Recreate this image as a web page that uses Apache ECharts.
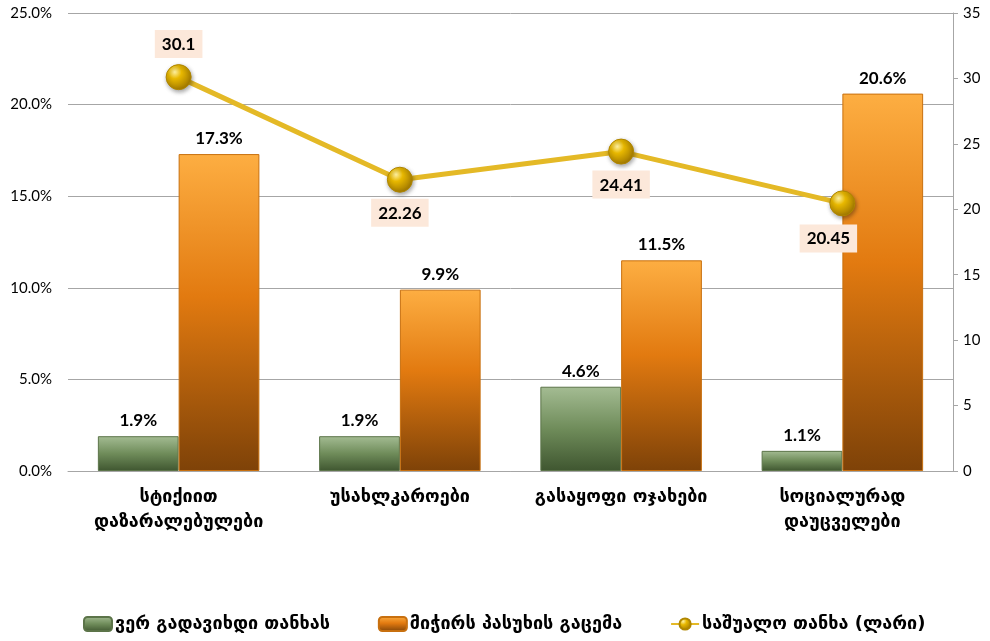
<!DOCTYPE html>
<html>
<head>
<meta charset="utf-8">
<script src="https://cdn.jsdelivr.net/npm/echarts@6/dist/echarts.min.js"></script>
<style>
html,body{margin:0;padding:0;background:#fff;}
#chart{width:990px;height:641px;}
</style>
</head>
<body>
<div id="chart"></div>
<script>
// Categories and series values
const categories = ['სტიქიით\nდაზარალებულები', 'უსახლკაროები', 'გასაყოფი ოჯახები', 'სოციალურად\nდაუცველები'];
const cannotPay = [1.9, 1.9, 4.6, 1.1];        // %
const hardToAnswer = [17.3, 9.9, 11.5, 20.6];   // %
const avgAmount = [30.1, 22.26, 24.41, 20.45];  // GEL
const seriesNames = ['ვერ გადავიხდი თანხას', 'მიჭირს პასუხის გაცემა', 'საშუალო თანხა (ლარი)'];
const leftTicks = [0, 5, 10, 15, 20, 25];
const rightTicks = [0, 5, 10, 15, 20, 25, 30, 35];

const numFont = 'Lato, "Open Sans", sans-serif';
const geoFont = '"DejaVu Sans", sans-serif';

const chart = echarts.init(document.getElementById('chart'), null, {renderer: 'canvas'});

const lineLabelPos = ['top', 'bottom', 'bottom', 'bottom'];
const lineLabelShift = [[0, 0], [0, 0], [0, 0], [-14, 2]];

chart.setOption({
  animation: false,
  backgroundColor: '#ffffff',
  grid: {left: 68, right: 37, top: 13, bottom: 170},
  legend: {
    bottom: 3,
    left: 78,
    itemGap: 48,
    itemWidth: 28,
    itemHeight: 14,
    textStyle: {fontFamily: geoFont, fontSize: 18, fontWeight: 'bold', color: '#000', padding: [0, 0, 0, -2]},
    data: seriesNames
  },
  xAxis: {
    type: 'category',
    data: categories,
    axisLine: {lineStyle: {color: '#A6A6A6', width: 1}},
    axisTick: {show: false},
    axisLabel: {fontFamily: geoFont, fontSize: 18, fontWeight: 'bold', color: '#000', lineHeight: 25, margin: 14, interval: 0}
  },
  yAxis: [
    {
      type: 'value',
      min: leftTicks[0],
      max: leftTicks[leftTicks.length - 1],
      interval: 5,
      axisLine: {show: false},
      axisTick: {show: false},
      splitLine: {lineStyle: {color: '#A6A6A6', width: 1}},
      axisLabel: {fontFamily: numFont, fontSize: 15, color: '#000', margin: 16,
        formatter: v => v.toFixed(1) + '%'}
    },
    {
      type: 'value',
      min: rightTicks[0],
      max: rightTicks[rightTicks.length - 1],
      interval: 5,
      axisLine: {show: true, lineStyle: {color: '#A6A6A6', width: 1}},
      axisTick: {show: true, length: 5, lineStyle: {color: '#A6A6A6'}},
      splitLine: {show: false},
      axisLabel: {fontFamily: numFont, fontSize: 15, color: '#000', margin: 10}
    }
  ],
  series: [
    {
      name: seriesNames[0],
      type: 'bar',
      data: cannotPay,
      barGap: '0%',
      barCategoryGap: '27%',
      itemStyle: {
        color: new echarts.graphic.LinearGradient(0, 0, 0, 1, [
          {offset: 0, color: '#A4BC93'},
          {offset: 0.5, color: '#6F8C5A'},
          {offset: 1, color: '#3F5630'}
        ]),
        borderColor: '#5C7449',
        borderWidth: 1
      },
      label: {show: true, position: 'top', distance: 7, fontFamily: numFont, fontWeight: 'bold',
        fontSize: 17, color: '#000', formatter: p => p.value.toFixed(1) + '%'}
    },
    {
      name: seriesNames[1],
      type: 'bar',
      data: hardToAnswer,
      itemStyle: {
        color: new echarts.graphic.LinearGradient(0, 0, 0, 1, [
          {offset: 0, color: '#FDAE42'},
          {offset: 0.45, color: '#E27A10'},
          {offset: 1, color: '#7E4208'}
        ]),
        borderColor: '#C8700F',
        borderWidth: 1
      },
      label: {show: true, position: 'top', distance: 7, fontFamily: numFont, fontWeight: 'bold',
        fontSize: 17, color: '#000', formatter: p => p.value.toFixed(1) + '%'}
    },
    {
      name: seriesNames[2],
      type: 'line',
      yAxisIndex: 1,
      data: avgAmount.map((v, i) => ({
        value: v,
        label: {position: lineLabelPos[i], distance: 6, offset: lineLabelShift[i]}
      })),
      symbol: 'circle',
      symbolSize: 25,
      lineStyle: {color: '#E4B926', width: 5},
      itemStyle: {
        color: new echarts.graphic.RadialGradient(0.35, 0.3, 0.75, [
          {offset: 0, color: '#FFF1A0'},
          {offset: 0.35, color: '#E8B800'},
          {offset: 1, color: '#9C7400'}
        ]),
        borderColor: '#B08600',
        borderWidth: 1,
        shadowColor: 'rgba(0,0,0,0.35)',
        shadowBlur: 4,
        shadowOffsetX: 1,
        shadowOffsetY: 2
      },
      label: {
        show: true,
        fontFamily: numFont,
        fontWeight: 'bold',
        fontSize: 17,
        color: '#000',
        backgroundColor: '#FCE8DA',
        padding: [6, 7, 5, 7],
        formatter: p => String(p.value)
      },
      z: 5
    }
  ]
});
</script>
</body>
</html>
